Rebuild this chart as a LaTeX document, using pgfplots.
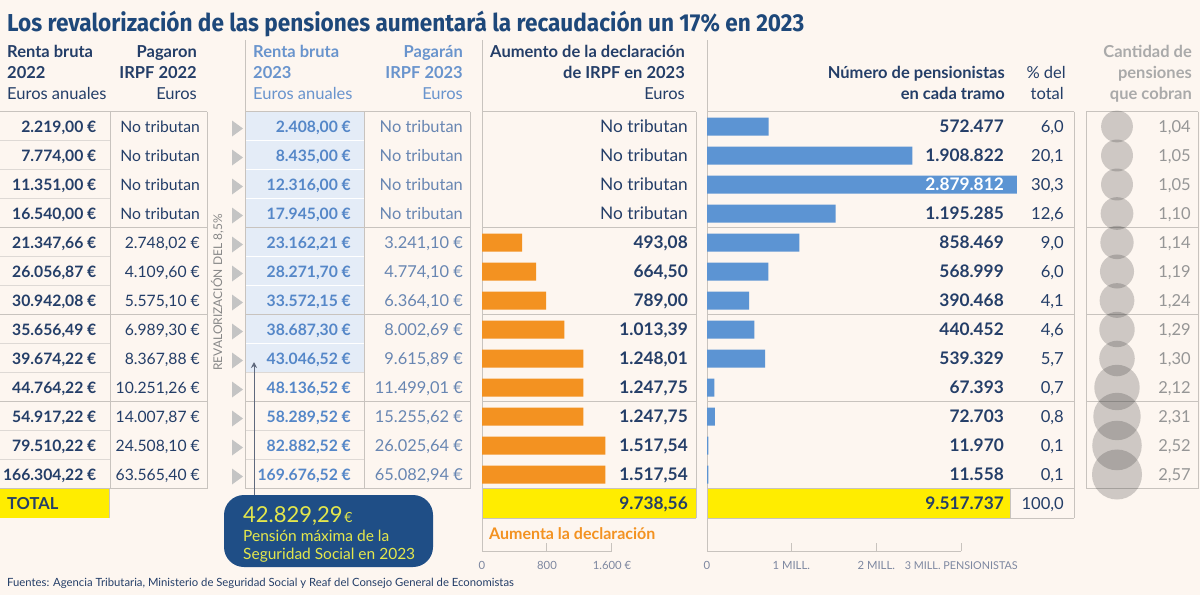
\documentclass[border=0pt]{standalone}
\usepackage{fontspec}
\setmainfont{Lato}
\newfontfamily\titlefont{Fira Sans}[FakeStretch=0.922]
\usepackage{pgfplots}
\usepackage{pgfplotstable}
\pgfplotsset{compat=1.18}
\usetikzlibrary{arrows.meta}

\definecolor{bg}{RGB}{253,246,240}
\definecolor{ttl}{RGB}{30,72,122}
\definecolor{dk}{RGB}{36,62,104}
\definecolor{mid}{RGB}{85,135,200}
\definecolor{lt}{RGB}{104,134,178}
\definecolor{hdlt}{RGB}{105,148,205}
\definecolor{cellblue}{RGB}{228,236,247}
\definecolor{org}{RGB}{243,146,33}
\definecolor{bbar}{RGB}{92,148,211}
\definecolor{yel}{RGB}{255,237,0}
\definecolor{ln}{RGB}{200,195,190}
\definecolor{lnl}{RGB}{222,217,213}
\definecolor{arr}{RGB}{196,196,196}
\definecolor{gtxt}{RGB}{150,150,150}
\definecolor{ghd}{RGB}{170,170,170}
\definecolor{call}{RGB}{31,78,134}
\definecolor{calltxt}{RGB}{228,231,76}
\definecolor{ticktxt}{RGB}{125,135,160}
\definecolor{arrline}{RGB}{95,105,125}

\newcommand\F[1]{\fontsize{#1}{#1}\selectfont}

% Numero de pensionistas por tramo
\pgfplotstableread{
row n
1 572477
2 1908822
3 2879812
4 1195285
5 858469
6 568999
7 390468
8 440452
9 539329
10 67393
11 72703
12 11970
13 11558
}\pens

% Aumento de la declaracion (euros)
\pgfplotstableread{
row v
5 493.08
6 664.50
7 789.00
8 1013.39
9 1248.01
10 1247.75
11 1247.75
12 1517.54
13 1517.54
}\aum

% Cantidad de pensiones que cobran
\pgfplotstableread{
row c
1 1.04
2 1.05
3 1.05
4 1.10
5 1.14
6 1.19
7 1.24
8 1.29
9 1.30
10 2.12
11 2.31
12 2.52
13 2.57
}\cant

\pgfplotsset{
 base/.style={scale only axis, width=1200pt, height=595pt, at={(0pt,0pt)}, anchor=south west,
   hide axis, clip=false, ymin=0, ymax=595, y dir=reverse},
 px/.style={base, xmin=0, xmax=1200},
}
\tikzset{
 tb/.style={anchor=base east, inner sep=0pt, text=dk, font=\F{15.7}\bfseries},
 tr/.style={anchor=base east, inner sep=0pt, text=dk, font=\F{15.7}},
 tbm/.style={anchor=base east, inner sep=0pt, text=mid, font=\F{15.7}\bfseries},
 trl/.style={anchor=base east, inner sep=0pt, text=lt, font=\F{16.4}},
 tbig/.style={anchor=base east, inner sep=0pt, text=dk, font=\F{17.3}\bfseries},
 tpct/.style={anchor=base east, inner sep=0pt, text=dk, font=\F{16.6}},
 tg/.style={anchor=base east, inner sep=0pt, text=gtxt, font=\F{16.5}},
 hb/.style={anchor=base east, inner sep=0pt, text=dk, font=\F{16.5}\bfseries},
 hr/.style={anchor=base east, inner sep=0pt, text=dk, font=\F{16.5}},
 tk/.style={anchor=base, inner sep=0pt, text=ticktxt, font=\F{11.3}},
}
\newcommand\NT{{\mdseries No tributan}}
\newcommand\Row[9]{%
 \node[tb] at (96.5,#1) {#2};
 \node[tr] at (200,#1) {#3};
 \node[tbm] at (351,#1) {#4};
 \node[trl] at (463,#1) {#5};
 \node[tbig] at (688,#1) {#6};
 \node[tbig] at (1004,#1) {#7};
 \node[tpct] at (1064,#1) {#8};
 \node[tg] at (1191,#1) {#9};
 \fill[arr] (232,{#1-12}) -- (243,{#1-4}) -- (232,{#1+4}) -- cycle;
}

\begin{document}
\begin{tikzpicture}
% ---------- background, cells, lines ----------
\begin{axis}[px]
 \fill[bg] (0,0) rectangle (1200,595);
 \fill[cellblue] (245.5,111.5) rectangle (364,372.5);
 \fill[yel] (0,488.5) rectangle (109,518);
 \fill[yel] (482,488.5) rectangle (696,518);
 \fill[yel] (707,488.5) rectangle (1010,518);
 \pgfplotsinvokeforeach{111.5,140.5,169.5,198.5,227.5,256.5,285.5,314.5,343.5,372.5,401.5,430.5,459.5,488.5}{
   \draw[lnl,line width=0.8pt] (0,#1) -- (110,#1);
 }
 \pgfplotsinvokeforeach{140.5,169.5,198.5,256.5,285.5,343.5}{
   \draw[white,line width=0.9pt] (245.5,#1) -- (364,#1);
 }
 \pgfplotsinvokeforeach{372.5,430.5,459.5}{
   \draw[lnl,line width=0.8pt] (245.5,#1) -- (364,#1);
 }
 \pgfplotsinvokeforeach{111.5,227.5,314.5,401.5,488.5}{
   \draw[ln,line width=0.8pt] (0,#1) -- (207,#1);
   \draw[ln,line width=0.8pt] (245.5,#1) -- (470,#1);
   \draw[ln,line width=0.8pt] (482,#1) -- (696,#1);
   \draw[ln,line width=0.8pt] (707,#1) -- (1074,#1);
   \draw[ln,line width=0.8pt] (1086,#1) -- (1198,#1);
 }
 \draw[ln,line width=0.8pt] (110,111.5) -- (110,488.5);
 \draw[ln,line width=0.8pt] (207,111.5) -- (207,488.5);
 \draw[ln,line width=0.8pt] (245.5,40) -- (245.5,488.5);
 \draw[ln,line width=0.8pt] (364,111.5) -- (364,488.5);
 \draw[ln,line width=0.8pt] (470,111.5) -- (470,488.5);
 \draw[ln,line width=0.8pt] (696,111.5) -- (696,518);
 \draw[ln,line width=0.8pt] (482,518) -- (696,518);
 \draw[ln,line width=0.8pt] (1074,111.5) -- (1074,518);
 \draw[ln,line width=0.8pt] (1010,488.5) -- (1010,518);
 \draw[ln,line width=0.8pt] (707,518) -- (1074,518);
 \draw[ln,line width=0.8pt] (1086,111.5) -- (1086,488.5);
 \draw[ln,line width=0.8pt] (1198,111.5) -- (1198,488.5);
 \draw[ln,line width=0.8pt] (109,488.5) -- (109,518);
 % axes
 \draw[ln,line width=0.9pt] (482,40) -- (482,551) -- (611.7,551);
 \draw[ln,line width=0.9pt] (546.7,551) -- (546.7,543);
 \draw[ln,line width=0.9pt] (611.7,551) -- (611.7,543);
 \draw[ln,line width=0.9pt] (707,40) -- (707,551) -- (961.3,551);
 \draw[ln,line width=0.9pt] (791.3,551) -- (791.3,543);
 \draw[ln,line width=0.9pt] (876.3,551) -- (876.3,543);
 \draw[ln,line width=0.9pt] (961.3,551) -- (961.3,543);
 % callout
 \fill[call,rounded corners=20pt] (224,495) rectangle (433,567);
 \draw[arrline,line width=1pt,-{Stealth[length=6pt,width=6pt]}] (254,495) -- (254,362);
\end{axis}

% ---------- orange bars ----------
\begin{axis}[base, xmin=-5932.3, xmax=8836.9, xbar, bar width=18pt]
 \addplot[fill=org, draw=none] table[x=v, y expr={126.5+29*(\thisrow{row}-1)}] {\aum};
\end{axis}

% ---------- blue bars ----------
\begin{axis}[base, xmin=-6570632, xmax=4581784, xbar, bar width=18pt]
 \addplot[fill=bbar, draw=none] table[x=n, y expr={126.5+29*(\thisrow{row}-1)}] {\pens};
\end{axis}

% ---------- bubbles and text ----------
\begin{axis}[px]
 \addplot[scatter, only marks, mark=*, point meta=explicit,
   scatter/use mapped color={draw opacity=0, fill=black!80, fill opacity=0.23},
   visualization depends on={15.6*sqrt(\thisrow{c}) \as \rr},
   scatter/@pre marker code/.append style={/tikz/mark size=\rr}]
   table[x expr=1117, y expr={126.5+29*(\thisrow{row}-1)}, meta=c] {\cant};

 % title
 \node[anchor=base west, inner sep=0pt, text=ttl, font=\titlefont\bfseries\F{24.5}] at (7,31.5)
   {Los revalorización de las pensiones aumentará la recaudación un 17\% en 2023};

 % headers
 \node[hb,anchor=base west] at (7,57) {Renta bruta};
 \node[hb,anchor=base west] at (7,78) {2022};
 \node[hr,anchor=base west] at (7,99) {Euros anuales};
 \node[hb] at (197,57) {Pagaron};
 \node[hb] at (197,78) {IRPF 2022};
 \node[hr] at (197,99) {Euros};
 \node[hb,anchor=base west,text=hdlt] at (253,57) {Renta bruta};
 \node[hb,anchor=base west,text=hdlt] at (253,78) {2023};
 \node[hr,anchor=base west,text=hdlt] at (253,99) {Euros anuales};
 \node[hb,text=hdlt] at (463,57) {Pagarán};
 \node[hb,text=hdlt] at (463,78) {IRPF 2023};
 \node[hr,text=hdlt] at (463,99) {Euros};
 \node[hb] at (685,57) {Aumento de la declaración};
 \node[hb] at (685,78) {de IRPF en 2023};
 \node[hr] at (685,99) {Euros};
 \node[hb] at (1005,78) {Número de pensionistas};
 \node[hb] at (1005,99) {en cada tramo};
 \node[hr] at (1066,78) {\% del};
 \node[hr] at (1064,99) {total};
 \node[hb,text=ghd] at (1192,57) {Cantidad de};
 \node[hb,text=ghd] at (1192,78) {pensiones};
 \node[hb,text=ghd] at (1192,99) {que cobran};

 % rows
 \Row{132.5}{2.219,00 €}{No tributan}{2.408,00 €}{No tributan}{\NT}{572.477}{6,0}{1,04}
 \Row{161.5}{7.774,00 €}{No tributan}{8.435,00 €}{No tributan}{\NT}{1.908.822}{20,1}{1,05}
 \Row{190.5}{11.351,00 €}{No tributan}{12.316,00 €}{No tributan}{\NT}{\textcolor{white}{2.879.812}}{30,3}{1,05}
 \Row{219.5}{16.540,00 €}{No tributan}{17.945,00 €}{No tributan}{\NT}{1.195.285}{12,6}{1,10}
 \Row{248.5}{21.347,66 €}{2.748,02 €}{23.162,21 €}{3.241,10 €}{493,08}{858.469}{9,0}{1,14}
 \Row{277.5}{26.056,87 €}{4.109,60 €}{28.271,70 €}{4.774,10 €}{664,50}{568.999}{6,0}{1,19}
 \Row{306.5}{30.942,08 €}{5.575,10 €}{33.572,15 €}{6.364,10 €}{789,00}{390.468}{4,1}{1,24}
 \Row{335.5}{35.656,49 €}{6.989,30 €}{38.687,30 €}{8.002,69 €}{1.013,39}{440.452}{4,6}{1,29}
 \Row{364.5}{39.674,22 €}{8.367,88 €}{43.046,52 €}{9.615,89 €}{1.248,01}{539.329}{5,7}{1,30}
 \Row{393.5}{44.764,22 €}{10.251,26 €}{48.136,52 €}{11.499,01 €}{1.247,75}{67.393}{0,7}{2,12}
 \Row{422.5}{54.917,22 €}{14.007,87 €}{58.289,52 €}{15.255,62 €}{1.247,75}{72.703}{0,8}{2,31}
 \Row{451.5}{79.510,22 €}{24.508,10 €}{82.882,52 €}{26.025,64 €}{1.517,54}{11.970}{0,1}{2,52}
 \Row{480.5}{166.304,22 €}{63.565,40 €}{169.676,52 €}{65.082,94 €}{1.517,54}{11.558}{0,1}{2,57}

 % totals
 \node[hb,anchor=base west] at (7,509.5) {TOTAL};
 \node[tbig] at (688,509.5) {9.738,56};
 \node[tbig] at (1004,509.5) {9.517.737};
 \node[tpct] at (1064,509.5) {100,0};

 % vertical label
 \node[rotate=90, inner sep=0pt, text=gtxt!90!black, font=\F{12}] at (217.5,292.5) {REVALORIZACIÓN DEL 8,5\%};

 % callout text
 \node[anchor=base west, inner sep=0pt, text=calltxt] at (243,522) {{\F{22}42.829,29}\,{\F{14}€}};
 \node[anchor=base west, inner sep=0pt, text=calltxt, font=\F{15.5}] at (243,541) {Pensión máxima de la};
 \node[anchor=base west, inner sep=0pt, text=calltxt, font=\F{15.5}] at (243,559) {Seguridad Social en 2023};

 % axis labels
 \node[anchor=base west, inner sep=0pt, text=org, font=\F{16}\bfseries] at (489,539) {Aumenta la declaración};
 \node[tk] at (482,569) {0};
 \node[tk] at (547,569) {800};
 \node[tk] at (612,569) {1.600 €};
 \node[tk] at (707,569) {0};
 \node[tk] at (791.3,569) {1 MILL.};
 \node[tk] at (876.3,569) {2 MILL.};
 \node[tk,font=\F{10.8}] at (961.3,569) {3 MILL. PENSIONISTAS};

 % source
 \node[anchor=base west, inner sep=0pt, text=dk, font=\F{11.3}] at (7,586)
   {Fuentes: Agencia Tributaria, Ministerio de Seguridad Social y Reaf del Consejo General de Economistas};
\end{axis}
\pgfresetboundingbox
\useasboundingbox (0pt,0pt) rectangle (1200pt,595pt);
\end{tikzpicture}
\end{document}
